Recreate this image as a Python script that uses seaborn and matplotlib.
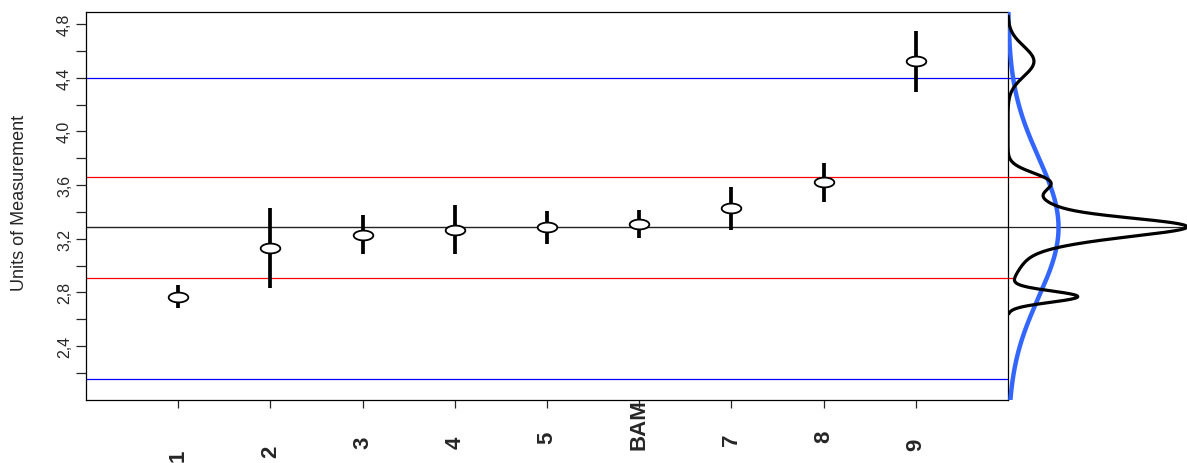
import numpy as np
import pandas as pd
import matplotlib
matplotlib.use("Agg")
import matplotlib.pyplot as plt
from matplotlib.path import Path
import matplotlib.transforms as mtransforms
import seaborn as sns

# lab results
labs = ["1", "2", "3", "4", "5", "BAM", "7", "8", "9"]
lab_values = [2.768, 3.131, 3.230, 3.267, 3.284, 3.309, 3.426, 3.620, 4.522]
lab_halfwidths = [0.085, 0.300, 0.144, 0.183, 0.120, 0.107, 0.160, 0.143, 0.225]

# reference lines
center_value = 3.284
inner_limits = [2.904, 3.657]
outer_limits = [2.155, 4.399]
normal_sd = 0.52

y_ticks = [2.4, 2.8, 3.2, 3.6, 4.0, 4.4, 4.8]
y_minor = [2.2, 2.6, 3.0, 3.4, 3.8, 4.2, 4.6]

sns.set_style("white")
plt.rcParams['font.family'] = ['Liberation Sans', 'DejaVu Sans']

df = pd.DataFrame({'pos': np.arange(1, len(labs) + 1), 'value': lab_values,
                   'half': lab_halfwidths})

fig = plt.figure(figsize=(11.87, 4.64), dpi=100)
ax = fig.add_axes([86 / 1187, 1 - 400.7 / 464, 922 / 1187, 388 / 464])
ax_d = fig.add_axes([1008 / 1187, 1 - 400.7 / 464, 179 / 1187, 388 / 464], sharey=ax)

ylo, yhi = 2.0, 4.892

# reference lines on main panel
ax.axhline(center_value, color='#222222', lw=1.0, zorder=1)
for v in inner_limits:
    ax.axhline(v, color='#ff0000', lw=0.9, zorder=1)
for v in outer_limits:
    ax.axhline(v, color='#0000ff', lw=0.9, zorder=1)

# error bars and ellipse markers
ax.vlines(df['pos'], df['value'] - df['half'], df['value'] + df['half'],
          color='black', lw=2.7, zorder=2)
t = np.linspace(0, 2 * np.pi, 60)
ellipse = Path(np.column_stack([np.cos(t), 0.5 * np.sin(t)]), closed=True)
sns.scatterplot(data=df, x='pos', y='value', marker=ellipse, s=200,
                facecolor='white', edgecolor='black', linewidth=1.3,
                zorder=3, ax=ax, legend=False)

ax.set_xlim(0, 10)
ax.set_ylim(ylo, yhi)
ax.set_xticks(df['pos'])
ax.set_xticklabels([])
ax.set_yticks(y_ticks)
ax.set_yticks(y_minor, minor=True)
ax.set_yticklabels([f"{v:.1f}".replace('.', ',') for v in y_ticks],
                   rotation=90, va='center', fontsize=11.5)
ax.tick_params(axis='y', which='both', left=True, length=7, width=0.9, pad=3)
ax.tick_params(axis='x', bottom=True, length=6, width=0.9)
ax.set_xlabel('')
ax.set_ylabel('')
for s in ax.spines.values():
    s.set_color('black')
    s.set_linewidth(0.9)

# x labels, each sits at its own depth below the axis
label_drop_px = [55, 51, 42, 42, 37, 24, 39, 36, 44]
for p, lab, d in zip(df['pos'], labs, label_drop_px):
    tr = mtransforms.blended_transform_factory(ax.transData, ax.transAxes)
    tr = tr + mtransforms.ScaledTranslation(0, -d / 100, fig.dpi_scale_trans)
    ax.text(p, 0, lab, transform=tr, rotation=90, ha='center', va='center',
            fontsize=16, fontweight='bold')

fig.text(20 / 1187, 1 - 203 / 464, 'Units of Measurement', rotation=90,
         ha='center', va='center', fontsize=13)

# density panel: mixture of lab normals (kernel sd = half bar / 2) and a plain normal
vals = np.array(lab_values)
sds = np.array(lab_halfwidths) / 2
grid = np.linspace((vals - 3 * sds).min(), (vals + 3 * sds).max(), 600)
mix = np.mean([np.exp(-0.5 * ((grid - m) / s) ** 2) / (s * np.sqrt(2 * np.pi))
               for m, s in zip(vals, sds)], axis=0)
ngrid = np.linspace(ylo, yhi, 400)
norm = np.exp(-0.5 * ((ngrid - center_value) / normal_sd) ** 2) / (normal_sd * np.sqrt(2 * np.pi))

dens_black = pd.DataFrame({'y': grid, 'd': mix})
dens_blue = pd.DataFrame({'y': ngrid, 'd': norm})
sns.lineplot(data=dens_blue, x='d', y='y', orient='y', sort=False,
             color='#3366ff', lw=3.2, ax=ax_d)
sns.lineplot(data=dens_black, x='d', y='y', orient='y', sort=False,
             color='black', lw=2.3, ax=ax_d)

for v, c in zip([center_value] + inner_limits + outer_limits,
                ['#222222', '#ff0000', '#ff0000', '#0000ff', '#0000ff']):
    ax_d.hlines(v, 0, np.interp(v, grid, mix, left=0, right=0), color=c, lw=0.9, zorder=1)

ax_d.set_xlim(0, mix.max())
ax_d.set_ylim(ylo, yhi)
ax_d.axis('off')

fig.savefig('out.png', dpi=100)
